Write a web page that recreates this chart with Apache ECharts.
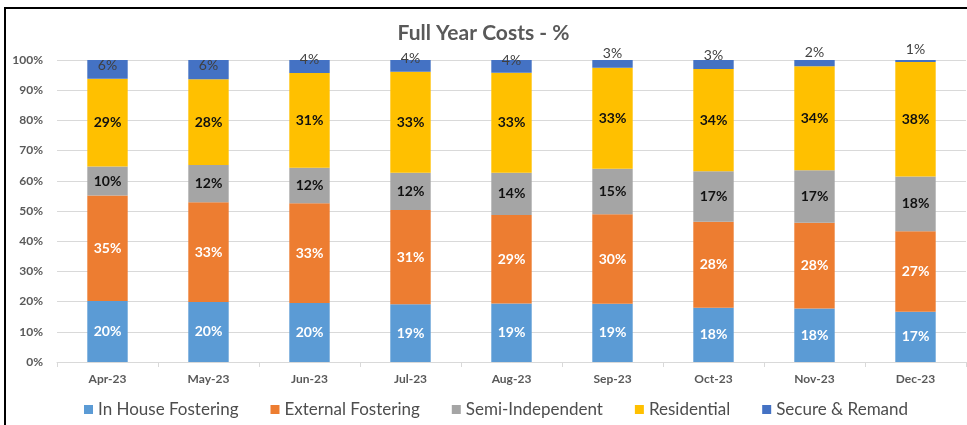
<!DOCTYPE html>
<html>
<head>
<meta charset="utf-8">
<script src="https://cdn.jsdelivr.net/npm/echarts@6/dist/echarts.min.js"></script>
<style>
  html, body { margin: 0; padding: 0; background: #fff; }
  #chart { width: 967px; height: 425px; }
</style>
</head>
<body>
<div id="chart"></div>
<script>
// data (percent of full year costs)
const months = ['Apr-23', 'May-23', 'Jun-23', 'Jul-23', 'Aug-23', 'Sep-23', 'Oct-23', 'Nov-23', 'Dec-23']
const inHouse = [20.2, 19.9, 19.5, 19.1, 19.4, 19.3, 18.0, 17.7, 16.6]
const external = [34.9, 33.0, 33.1, 31.2, 29.3, 29.6, 28.4, 28.4, 26.7]
const semiIndependent = [9.6, 12.3, 11.7, 12.4, 14.0, 15.1, 16.8, 17.4, 18.1]
const residential = [29.1, 28.4, 31.4, 33.4, 33.1, 33.4, 33.8, 34.4, 37.9]
const secure = [6.2, 6.4, 4.3, 3.9, 4.2, 2.6, 3.0, 2.1, 0.7]
const yTicks = [0, 10, 20, 30, 40, 50, 60, 70, 80, 90, 100]

// small thin segments: Excel pushed their labels upwards
const secureLabelLift = [-4, -4, -7, -7, -6, -10, -9, -11, -12]

const font = 'Lato, "Open Sans", sans-serif'
const pct = p => Math.round(p.value) + '%'

const makeSeries = (name, values, color, labelColor) => ({
  name,
  type: 'bar',
  stack: 'total',
  barWidth: '40%',
  data: values,
  itemStyle: { color },
  label: {
    show: true,
    position: 'inside',
    formatter: pct,
    color: labelColor,
    fontFamily: font,
    fontWeight: 'bold',
    fontSize: 14
  }
})

const chart = echarts.init(document.getElementById('chart'))

const option = {
  backgroundColor: '#fff',
  animation: false,
  textStyle: { fontFamily: font },
  color: ['#5B9BD5', '#ED7D31', '#A5A5A5', '#FFC000', '#4472C4'],
  title: {
    text: 'Full Year Costs - %',
    left: 'center',
    top: 18,
    textStyle: { color: '#595959', fontSize: 21, fontWeight: 'bold', fontFamily: font }
  },
  graphic: [{
    type: 'rect',
    shape: { x: 5, y: 8, width: 1100, height: 600 },
    style: { fill: 'none', stroke: '#000', lineWidth: 2 },
    silent: true
  }],
  legend: {
    bottom: 2,
    left: 79,
    itemWidth: 9,
    itemHeight: 9,
    itemGap: 32,
    icon: 'rect',
    textStyle: { color: '#4d4d4d', fontSize: 17, fontFamily: font }
  },
  grid: { left: 57, right: 1, top: 60, bottom: 63 },
  xAxis: {
    type: 'category',
    data: months,
    axisLine: { lineStyle: { color: '#D9D9D9' } },
    axisTick: { show: true, length: 5, lineStyle: { color: '#D9D9D9' } },
    axisLabel: { color: '#595959', fontWeight: 'bold', fontSize: 12, margin: 11, fontFamily: font }
  },
  yAxis: {
    type: 'value',
    min: yTicks[0],
    max: yTicks[yTicks.length - 1],
    interval: yTicks[1] - yTicks[0],
    axisLine: { show: false },
    axisTick: { show: false },
    splitLine: { lineStyle: { color: '#D9D9D9' } },
    axisLabel: { formatter: '{value}%', color: '#595959', fontWeight: 'bold', fontSize: 12, margin: 14, fontFamily: font }
  },
  series: [
    makeSeries('In House Fostering', inHouse, '#5B9BD5', '#fff'),
    makeSeries('External Fostering', external, '#ED7D31', '#fff'),
    makeSeries('Semi-Independent', semiIndependent, '#A5A5A5', '#111'),
    makeSeries('Residential', residential, '#FFC000', '#111'),
    {
      ...makeSeries('Secure & Remand', secure, '#4472C4', '#404040'),
      data: secure.map((v, i) => ({ value: v, label: { offset: [0, secureLabelLift[i]] } })),
      label: {
        show: true,
        position: 'inside',
        formatter: pct,
        color: '#404040',
        fontFamily: font,
        fontSize: 14
      }
    }
  ]
}

chart.setOption(option)
window.addEventListener('resize', chart.resize)
</script>
</body>
</html>
